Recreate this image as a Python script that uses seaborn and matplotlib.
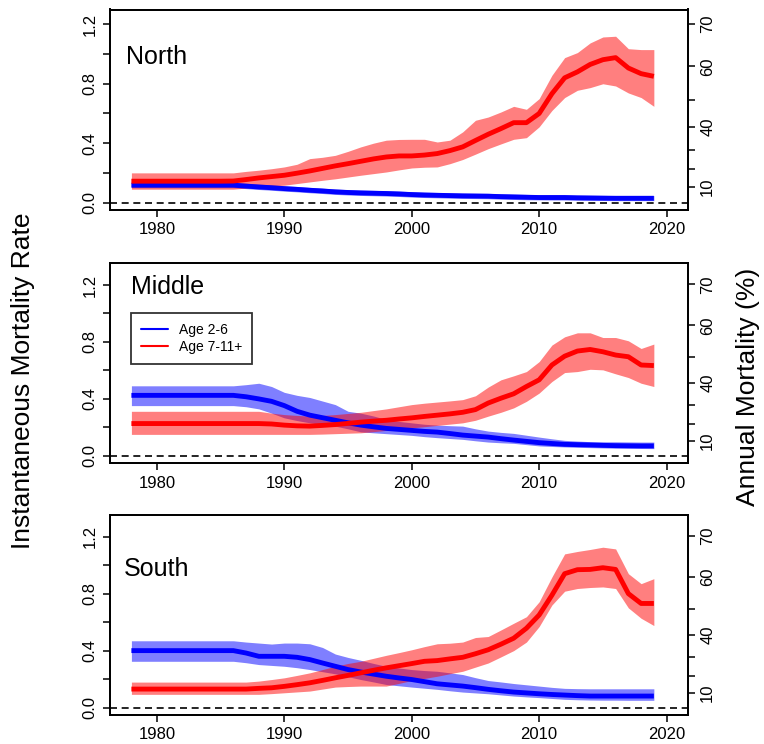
import numpy as np
import pandas as pd
import matplotlib
matplotlib.use("Agg")
import matplotlib.pyplot as plt
from matplotlib.lines import Line2D
import seaborn as sns

# ---------------- data ----------------
years = list(range(1978, 2020))
groups = ["Age 2-6", "Age 7-11+"]
regions = ["North", "Middle", "South"]

north_young_mid = [0.117]*9 + [0.111, 0.105, 0.100, 0.094, 0.089, 0.083, 0.078, 0.072, 0.068, 0.065,
                               0.063, 0.061, 0.058, 0.054, 0.051, 0.049, 0.047, 0.045, 0.044, 0.043,
                               0.040, 0.038, 0.036, 0.034, 0.034, 0.034, 0.032, 0.031, 0.030, 0.029,
                               0.029, 0.029, 0.029]
north_young_hi = [0.135]*9 + [0.130, 0.124, 0.119, 0.113, 0.108, 0.102, 0.097, 0.091, 0.087, 0.084,
                              0.082, 0.080, 0.077, 0.073, 0.070, 0.068, 0.066, 0.064, 0.063, 0.062,
                              0.059, 0.057, 0.055, 0.053, 0.053, 0.052, 0.050, 0.049, 0.048, 0.047,
                              0.047, 0.047, 0.047]
north_young_lo = [0.100]*9 + [0.094, 0.088, 0.083, 0.077, 0.072, 0.066, 0.061, 0.055, 0.051, 0.048,
                              0.046, 0.044, 0.041, 0.037, 0.034, 0.032, 0.030, 0.028, 0.027, 0.026,
                              0.023, 0.021, 0.019, 0.018, 0.017, 0.017, 0.016, 0.015, 0.014, 0.013,
                              0.013, 0.013, 0.013]
north_old_mid = [0.144]*8 + [0.145, 0.155, 0.166, 0.175, 0.184, 0.198, 0.213, 0.230, 0.247, 0.262,
                             0.278, 0.294, 0.307, 0.314, 0.314, 0.320, 0.330, 0.350, 0.375, 0.418,
                             0.460, 0.498, 0.538, 0.538, 0.600, 0.733, 0.840, 0.880, 0.930, 0.962,
                             0.976, 0.906, 0.868, 0.850]
north_old_hi = [0.200]*9 + [0.210, 0.218, 0.228, 0.240, 0.258, 0.296, 0.305, 0.318, 0.345, 0.375,
                            0.400, 0.420, 0.425, 0.426, 0.426, 0.408, 0.420, 0.476, 0.554, 0.576,
                            0.610, 0.648, 0.628, 0.700, 0.857, 0.976, 1.010, 1.075, 1.115, 1.120,
                            1.036, 1.030, 1.030]
north_old_lo = [0.090]*9 + [0.098, 0.105, 0.111, 0.117, 0.128, 0.139, 0.150, 0.160, 0.172, 0.184,
                            0.195, 0.206, 0.220, 0.233, 0.238, 0.240, 0.262, 0.290, 0.326, 0.363,
                            0.395, 0.426, 0.437, 0.510, 0.620, 0.707, 0.756, 0.774, 0.800, 0.785,
                            0.738, 0.707, 0.648]

middle_young_mid = [0.425]*9 + [0.415, 0.400, 0.383, 0.353, 0.313, 0.286, 0.268, 0.250, 0.232, 0.216,
                                0.204, 0.193, 0.186, 0.179, 0.172, 0.167, 0.157, 0.146, 0.139, 0.132,
                                0.121, 0.111, 0.102, 0.093, 0.087, 0.081, 0.079, 0.077, 0.074, 0.072,
                                0.071, 0.070, 0.070]
middle_young_hi = [0.492]*9 + [0.500, 0.510, 0.487, 0.446, 0.425, 0.410, 0.385, 0.360, 0.313, 0.300,
                               0.280, 0.255, 0.242, 0.232, 0.222, 0.216, 0.212, 0.209, 0.190, 0.174,
                               0.165, 0.158, 0.145, 0.132, 0.120, 0.109, 0.104, 0.100, 0.099, 0.099,
                               0.098, 0.097, 0.097]
middle_young_lo = [0.353]*9 + [0.345, 0.330, 0.300, 0.267, 0.248, 0.232, 0.220, 0.209, 0.190, 0.169,
                               0.162, 0.156, 0.150, 0.144, 0.135, 0.128, 0.122, 0.116, 0.106, 0.097,
                               0.092, 0.088, 0.079, 0.070, 0.066, 0.063, 0.060, 0.058, 0.056, 0.054,
                               0.053, 0.052, 0.051]
middle_old_mid = [0.227]*11 + [0.224, 0.216, 0.211, 0.209, 0.214, 0.220, 0.228, 0.237, 0.244, 0.250,
                               0.259, 0.267, 0.277, 0.286, 0.295, 0.306, 0.325, 0.371, 0.405, 0.436,
                               0.487, 0.534, 0.638, 0.700, 0.736, 0.747, 0.731, 0.708, 0.696, 0.638,
                               0.634]
middle_old_hi = [0.313]*11 + [0.300, 0.290, 0.284, 0.279, 0.284, 0.290, 0.298, 0.306, 0.318, 0.330,
                              0.345, 0.360, 0.370, 0.378, 0.386, 0.395, 0.422, 0.483, 0.534, 0.562,
                              0.592, 0.662, 0.778, 0.836, 0.864, 0.864, 0.831, 0.831, 0.808, 0.754,
                              0.785]
middle_old_lo = [0.151]*15 + [0.153, 0.156, 0.159, 0.162, 0.170, 0.179, 0.188, 0.197, 0.205, 0.214,
                              0.223, 0.232, 0.250, 0.279, 0.306, 0.337, 0.383, 0.441, 0.522, 0.585,
                              0.592, 0.608, 0.604, 0.576, 0.550, 0.510, 0.487]

south_young_mid = [0.400]*9 + [0.383, 0.360, 0.360, 0.360, 0.353, 0.337, 0.313, 0.290, 0.267, 0.250,
                               0.235, 0.220, 0.208, 0.197, 0.182, 0.167, 0.159, 0.151, 0.140, 0.128,
                               0.118, 0.109, 0.103, 0.097, 0.092, 0.088, 0.084, 0.081, 0.081, 0.081,
                               0.081, 0.081, 0.081]
south_young_hi = [0.469]*9 + [0.460, 0.453, 0.446, 0.453, 0.453, 0.448, 0.422, 0.376, 0.352, 0.332,
                              0.310, 0.290, 0.278, 0.267, 0.260, 0.255, 0.244, 0.232, 0.210, 0.190,
                              0.180, 0.169, 0.160, 0.151, 0.142, 0.135, 0.133, 0.132, 0.132, 0.132,
                              0.132, 0.132, 0.132]
south_young_lo = [0.325]*9 + [0.315, 0.302, 0.296, 0.290, 0.280, 0.267, 0.252, 0.237, 0.217, 0.197,
                              0.180, 0.162, 0.153, 0.144, 0.136, 0.128, 0.118, 0.109, 0.103, 0.097,
                              0.089, 0.081, 0.075, 0.070, 0.064, 0.058, 0.055, 0.053, 0.052, 0.052,
                              0.051, 0.051, 0.051]
south_old_mid = [0.130]*10 + [0.135, 0.139, 0.149, 0.161, 0.174, 0.191, 0.209, 0.226, 0.244, 0.262,
                              0.279, 0.294, 0.309, 0.325, 0.330, 0.342, 0.353, 0.378, 0.406, 0.445,
                              0.487, 0.557, 0.650, 0.789, 0.940, 0.968, 0.970, 0.982, 0.970, 0.800,
                              0.731, 0.731]
south_old_hi = [0.179]*10 + [0.186, 0.197, 0.209, 0.226, 0.244, 0.267, 0.290, 0.310, 0.325, 0.346,
                             0.367, 0.386, 0.406, 0.428, 0.448, 0.452, 0.460, 0.492, 0.499, 0.545,
                             0.592, 0.638, 0.743, 0.917, 1.079, 1.096, 1.110, 1.126, 1.114, 0.940,
                             0.870, 0.905]
south_old_lo = [0.093]*11 + [0.098, 0.104, 0.110, 0.116, 0.130, 0.144, 0.148, 0.151, 0.151, 0.151,
                             0.170, 0.190, 0.205, 0.220, 0.238, 0.255, 0.284, 0.313, 0.356, 0.400,
                             0.460, 0.569, 0.720, 0.817, 0.836, 0.843, 0.847, 0.836, 0.700, 0.627,
                             0.576]

left_ticks = [0.0, 0.2, 0.4, 0.6, 0.8, 1.0, 1.2]
left_labels = ["0.0", "", "0.4", "", "0.8", "", "1.2"]
right_pct = [10, 20, 30, 40, 50, 60, 70]
right_labels = ["10", "", "", "40", "", "60", "70"]
x_ticks = [1980, 1990, 2000, 2010, 2020]

series = {
    "North": {"Age 2-6": (north_young_mid, north_young_lo, north_young_hi),
              "Age 7-11+": (north_old_mid, north_old_lo, north_old_hi)},
    "Middle": {"Age 2-6": (middle_young_mid, middle_young_lo, middle_young_hi),
               "Age 7-11+": (middle_old_mid, middle_old_lo, middle_old_hi)},
    "South": {"Age 2-6": (south_young_mid, south_young_lo, south_young_hi),
              "Age 7-11+": (south_old_mid, south_old_lo, south_old_hi)},
}

# ---------------- style ----------------
sns.set_style("ticks")
plt.rcParams["font.family"] = ["Liberation Sans", "DejaVu Sans"]
plt.rcParams["axes.linewidth"] = 1.3
plt.rcParams["text.color"] = "black"
plt.rcParams["xtick.color"] = "black"
plt.rcParams["ytick.color"] = "black"

colors = {"Age 2-6": "#0000FF", "Age 7-11+": "#FF0000"}

fig = plt.figure(figsize=(7.64, 7.44), dpi=100)
W, H = 764, 744
boxes = {"North": (9.5, 210.0), "Middle": (263.3, 463.3), "South": (515.0, 715.0)}
ylims = {"North": (-0.05, 1.30), "Middle": (-0.052, 1.352), "South": (-0.052, 1.352)}
label_pos = {"North": (0.027, 0.728), "Middle": (0.036, 0.845), "South": (0.024, 0.694)}

left_px, right_px = 110, 688

for reg in regions:
    top, bot = boxes[reg]
    ax = fig.add_axes([left_px / W, 1 - bot / H, (right_px - left_px) / W, (bot - top) / H])
    for g in groups:
        mid, lo, hi = series[reg][g]
        df = pd.DataFrame({"year": years, "rate": mid, "lo": lo, "hi": hi})
        ax.fill_between(df["year"], df["lo"], df["hi"], color=colors[g], alpha=0.5,
                        lw=0, zorder=1)
        sns.lineplot(data=df, x="year", y="rate", color=colors[g], lw=3.5, ax=ax,
                     zorder=2, solid_capstyle="butt")
    ax.axhline(0, color="black", lw=1.2, dashes=(4.2, 2.8), zorder=3)
    ax.set_xlim(1976.32, 2021.68)
    ax.set_ylim(*ylims[reg])
    ax.set_xticks(x_ticks)
    ax.set_xticklabels([str(x) for x in x_ticks])
    ax.set_yticks(left_ticks)
    ax.set_yticklabels(left_labels, rotation=90, va="center")
    ax.set_xlabel("")
    ax.set_ylabel("")
    ax.tick_params(axis="both", direction="out", length=4.8, width=1.1, labelsize=12,
                   color="black", labelcolor="black", pad=4)
    for s in ax.spines.values():
        s.set_visible(True)
        s.set_color("black")
        s.set_linewidth(1.3)
    tx, ty = label_pos[reg]
    ax.text(tx, ty, reg, transform=ax.transAxes, fontsize=18, va="baseline", ha="left",
            color="black")

    ax2 = ax.twinx()
    ax2.set_ylim(*ylims[reg])
    ax2.set_yticks([-np.log(1 - p / 100.0) for p in right_pct])
    ax2.set_yticklabels(right_labels, rotation=90, va="center")
    ax2.tick_params(axis="y", direction="out", length=4.8, width=1.1, labelsize=12,
                    color="black", labelcolor="black", pad=4)
    for s in ax2.spines.values():
        s.set_visible(True)
        s.set_color("black")
        s.set_linewidth(1.3)

    if reg == "Middle":
        handles = [Line2D([0], [0], color=colors[g], lw=1.5) for g in groups]
        leg = ax.legend(handles, groups, loc="upper left", bbox_to_anchor=(0.036, 0.75),
                        borderaxespad=0, fontsize=10, frameon=True, fancybox=False,
                        edgecolor="black", handlelength=1.95, handletextpad=0.85,
                        labelspacing=0.2, borderpad=0.7)
        leg.get_frame().set_linewidth(1.3)
        for t in leg.get_texts():
            t.set_color("black")
        leg.set_zorder(10)

fig.text(23 / W, 1 - 381 / H, "Instantaneous Mortality Rate", rotation=90,
         ha="center", va="center", fontsize=19, color="black")
fig.text(748 / W, 1 - 387 / H, "Annual Mortality (%)", rotation=90,
         ha="center", va="center", fontsize=19, color="black")

fig.savefig("out.png", dpi=100, facecolor="white")
